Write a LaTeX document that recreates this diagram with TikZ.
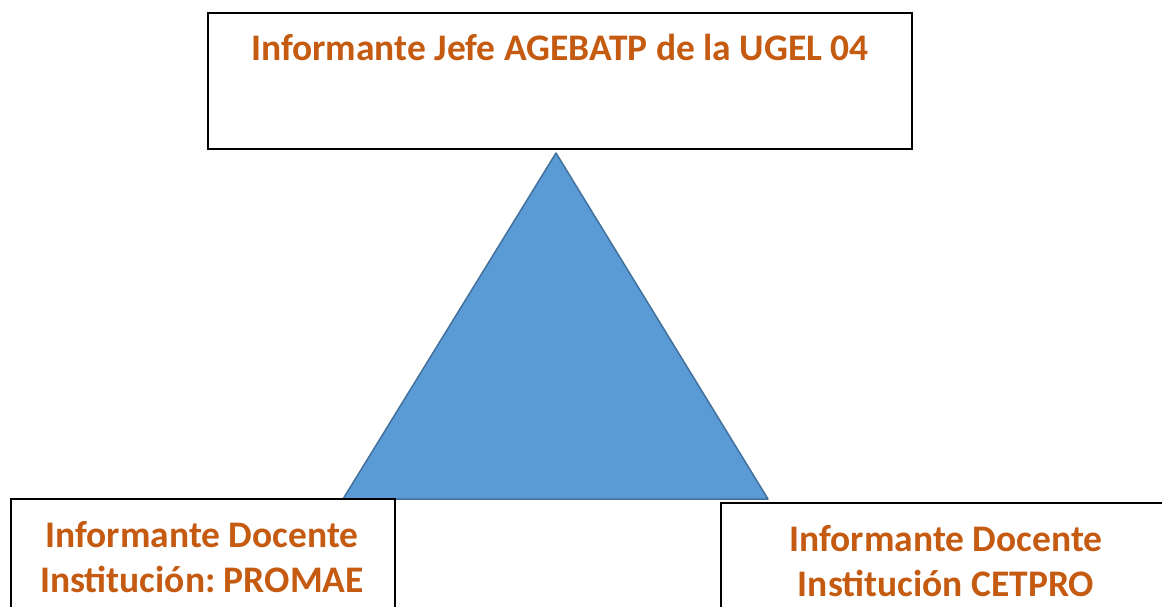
\documentclass[tikz,border=0pt]{standalone}
\usepackage{fontspec}
\setmainfont{Carlito}
\frenchspacing
\definecolor{txtorange}{HTML}{C55A11}
\definecolor{trifill}{HTML}{5B9BD5}
\definecolor{triline}{HTML}{41719C}
\begin{document}
\begin{tikzpicture}[x=1pt,y=-1pt,
  boxstyle/.style={draw=black,line width=1.6pt,fill=white,rectangle,inner sep=0pt},
  lbl/.style={text=txtorange,font=\fontsize{37.5}{45}\selectfont\bfseries\frenchspacing,align=center,inner sep=0pt}]
\useasboundingbox (0,0) rectangle (1162,606);
\clip (0,0) rectangle (1162,606);
% triangle
\coordinate (apex) at (556,153);
\coordinate (bl) at (343,499);
\coordinate (br) at (768,499);
\draw[fill=trifill,draw=triline,line width=1.5pt,line join=round] (apex) -- (bl) -- (br) -- cycle;
% top box
\node[boxstyle,minimum width=704pt,minimum height=136pt] (top) at (560,81) {};
\node[lbl] (toptext) at (560,47) {Informante Jefe AGEBATP de la UGEL 04};
% bottom left box
\node[boxstyle,minimum width=384pt,minimum height=140pt] (left) at (203,569) {};
\node[lbl] (lefttext) at (202,557) {Informante Docente\\Instituci\'on: PROMAE};
% bottom right box
\node[boxstyle,minimum width=500pt,minimum height=140pt] (right) at (971,573) {};
\node[lbl] (righttext) at (946,561) {Informante Docente\\Instituci\'on CETPRO};
\end{tikzpicture}
\end{document}
